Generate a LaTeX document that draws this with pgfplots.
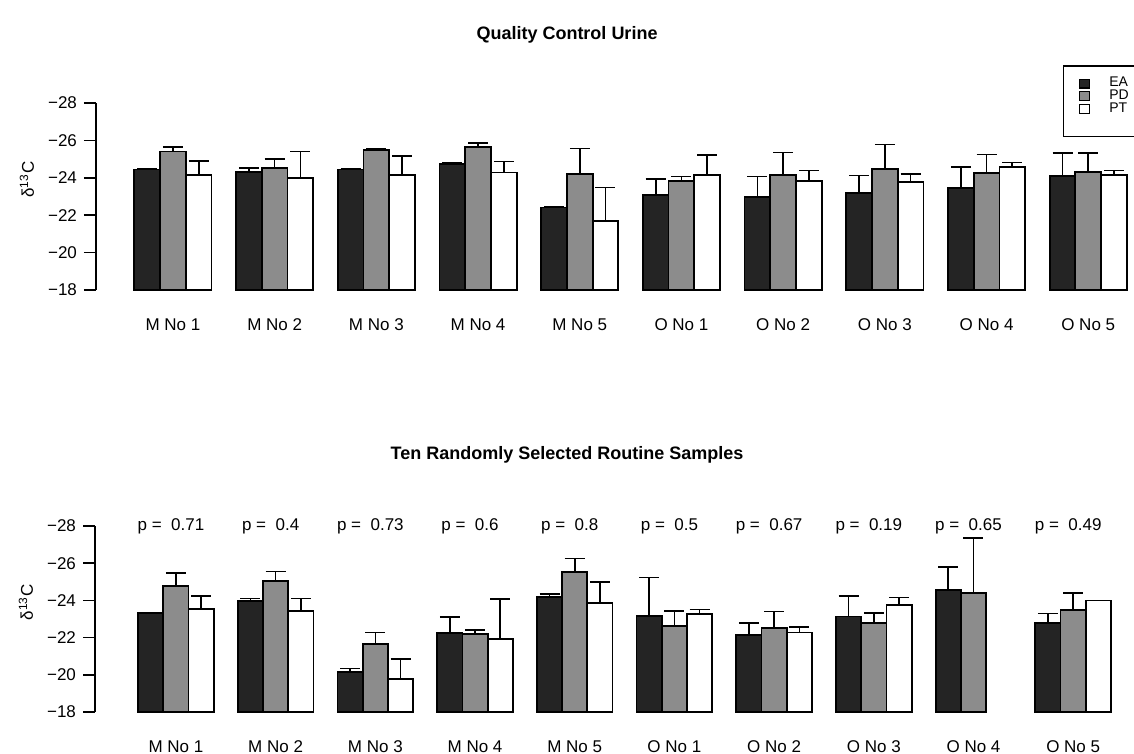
\documentclass[border=0pt]{standalone}
\usepackage{fontspec}
\setmainfont{Liberation Sans}
\usepackage{pgfplots}
\usepackage{pgfplotstable}
\pgfplotsset{compat=1.18}
\definecolor{eacol}{gray}{0.14}
\definecolor{pdcol}{gray}{0.55}
\definecolor{ptcol}{gray}{1.0}

% mean and length of the upper error bar (delta 13C, per mil)
\pgfplotstableread{
x ea eae pd pde pt pte
0 -24.44 0.05 -25.41 0.23 -24.17 0.73
1 -24.31 0.20 -24.52 0.47 -23.99 1.42
2 -24.44 0.06 -25.50 0.03 -24.17 0.99
3 -24.74 0.05 -25.66 0.20 -24.28 0.60
4 -22.41 0.05 -24.19 1.37 -21.68 1.81
5 -23.07 0.87 -23.83 0.23 -24.13 1.09
6 -22.96 1.12 -24.13 1.23 -23.81 0.57
7 -23.17 0.95 -24.45 1.32 -23.79 0.40
8 -23.46 1.12 -24.24 1.01 -24.56 0.25
9 -24.10 1.23 -24.31 1.02 -24.17 0.23
}\topdata

\pgfplotstableread{
x ea eae pd pde pt pte
0 -23.31 0.03 -24.77 0.69 -23.52 0.73
1 -23.98 0.12 -25.04 0.52 -23.43 0.67
2 -20.13 0.20 -21.64 0.63 -19.77 1.08
3 -22.25 0.85 -22.19 0.22 -21.91 2.18
4 -24.20 0.14 -25.51 0.75 -23.86 1.14
5 -23.16 2.08 -22.62 0.81 -23.25 0.27
6 -22.14 0.63 -22.50 0.91 -22.27 0.30
7 -23.13 1.12 -22.77 0.54 -23.75 0.40
8 -24.54 1.26 -24.40 2.97 nan nan
9 -22.80 0.49 -23.48 0.93 -24.00 0.00
}\botdata

\pgfplotsset{
  panel/.style={
    scale only axis, clip=false,
    ymin=0, ymax=10,
    axis lines*=left,
    x axis line style={draw=none},
    y axis line style={line width=0.8pt, black},
    xtick={0,...,9},
    xticklabels={M No 1,M No 2,M No 3,M No 4,M No 5,O No 1,O No 2,O No 3,O No 4,O No 5},
    xtick style={draw=none},
    xtick align=inside,
    xticklabel shift=10.6pt,
    x tick label style={text height=6.2pt, text depth=0pt},
    ytick={0,2,...,10},
    yticklabels={−18,−20,−22,−24,−26,−28},
    ytick align=outside,
    major tick length=6pt,
    ytick style={line width=0.8pt, black},
    tick label style={font=\fontsize{8.5}{10}\selectfont},
    ylabel={δ\textsuperscript{13}C},
    every axis y label/.style={at={(axis description cs:-0.0665,0.59)}, rotate=90, anchor=center, font=\fontsize{8.5}{10}\selectfont},
  },
}

\begin{document}
\begin{tikzpicture}
\node[font=\bfseries\fontsize{9}{11}\selectfont] at (283.5pt,-17.5pt) {Quality Control Urine};
\node[font=\bfseries\fontsize{9}{11}\selectfont] at (283.5pt,-227.5pt) {Ten Randomly Selected Routine Samples};

\begin{axis}[panel,
  at={(48pt,-145pt)}, anchor=south west, width=519pt, height=93.5pt,
  xmin=-0.757, xmax=9.45,
  legend style={at={(axis description cs:0.9315,1.203)}, anchor=north west,
    draw=black, line width=0.75pt, inner xsep=7.5pt, inner ysep=5.75pt,
    font=\fontsize{7}{7}\selectfont, row sep=0pt,
    nodes={inner sep=0pt, anchor=west}},
  legend cell align=left,
]
\addplot[ybar, bar width=0.253, bar shift=0pt, draw=black, line width=0.9pt, fill=eacol,
  legend image code/.code={\draw[line width=0.6pt, draw=black, fill=eacol] (0pt,-2.2pt) rectangle (5pt,2.2pt); \path[draw=none, fill=none] (0pt,0pt) -- (15pt,0pt);},
  error bars/.cd, y dir=plus, y explicit, error bar style={line width=0.8pt, black},
  error mark options={rotate=90, line width=0.8pt, mark size=5pt, black}]
  table[x expr=\thisrow{x}-0.253, y expr=-\thisrow{ea}-18, y error plus expr=\thisrow{eae}, y error minus expr=0] {\topdata};
\addlegendentry{\makebox[12pt][l]{EA}}
\addplot[ybar, bar width=0.253, bar shift=0pt, draw=black, line width=0.9pt, fill=pdcol,
  legend image code/.code={\draw[line width=0.6pt, draw=black, fill=pdcol] (0pt,-2.2pt) rectangle (5pt,2.2pt); \path[draw=none, fill=none] (0pt,0pt) -- (15pt,0pt);},
  error bars/.cd, y dir=plus, y explicit, error bar style={line width=0.8pt, black},
  error mark options={rotate=90, line width=0.8pt, mark size=5pt, black}]
  table[x expr=\thisrow{x}, y expr=-\thisrow{pd}-18, y error plus expr=\thisrow{pde}, y error minus expr=0] {\topdata};
\addlegendentry{\makebox[12pt][l]{PD}}
\addplot[ybar, bar width=0.253, bar shift=0pt, draw=black, line width=0.9pt, fill=ptcol,
  legend image code/.code={\draw[line width=0.6pt, draw=black, fill=ptcol] (0pt,-2.2pt) rectangle (5pt,2.2pt); \path[draw=none, fill=none] (0pt,0pt) -- (15pt,0pt);},
  error bars/.cd, y dir=plus, y explicit, error bar style={line width=0.8pt, black},
  error mark options={rotate=90, line width=0.8pt, mark size=5pt, black}]
  table[x expr=\thisrow{x}+0.253, y expr=-\thisrow{pt}-18, y error plus expr=\thisrow{pte}, y error minus expr=0] {\topdata};
\addlegendentry{\makebox[12pt][l]{PT}}
\addlegendimage{empty legend}
\addlegendentry{\rule{0pt}{3.5pt}}
\end{axis}

\begin{axis}[panel,
  at={(47.5pt,-356pt)}, anchor=south west, width=519.5pt, height=93pt,
  xmin=-0.812, xmax=9.61,
]
\addplot[ybar, bar width=0.253, bar shift=0pt, draw=black, line width=0.9pt, fill=eacol,
  error bars/.cd, y dir=plus, y explicit, error bar style={line width=0.8pt, black},
  error mark options={rotate=90, line width=0.8pt, mark size=5pt, black}]
  table[x expr=\thisrow{x}-0.253, y expr=-\thisrow{ea}-18, y error plus expr=\thisrow{eae}, y error minus expr=0] {\botdata};
\addplot[ybar, bar width=0.253, bar shift=0pt, draw=black, line width=0.9pt, fill=pdcol,
  error bars/.cd, y dir=plus, y explicit, error bar style={line width=0.8pt, black},
  error mark options={rotate=90, line width=0.8pt, mark size=5pt, black}]
  table[x expr=\thisrow{x}, y expr=-\thisrow{pd}-18, y error plus expr=\thisrow{pde}, y error minus expr=0] {\botdata};
\addplot[ybar, bar width=0.253, bar shift=0pt, draw=black, line width=0.9pt, fill=ptcol,
  error bars/.cd, y dir=plus, y explicit, error bar style={line width=0.8pt, black},
  error mark options={rotate=90, line width=0.8pt, mark size=5pt, black}]
  table[x expr=\thisrow{x}+0.253, y expr=-\thisrow{pt}-18, y error plus expr=\thisrow{pte}, y error minus expr=0] {\botdata};
\begin{scope}[every node/.style={font=\fontsize{8.5}{10}\selectfont}]
\node at (axis cs:-0.05,10) {p = \ 0.71};
\node at (axis cs:0.95,10) {p = \ 0.4};
\node at (axis cs:1.95,10) {p = \ 0.73};
\node at (axis cs:2.95,10) {p = \ 0.6};
\node at (axis cs:3.95,10) {p = \ 0.8};
\node at (axis cs:4.95,10) {p = \ 0.5};
\node at (axis cs:5.95,10) {p = \ 0.67};
\node at (axis cs:6.95,10) {p = \ 0.19};
\node at (axis cs:7.95,10) {p = \ 0.65};
\node at (axis cs:8.95,10) {p = \ 0.49};
\end{scope}
\end{axis}

\pgfresetboundingbox
\path (0pt,0pt) rectangle (567pt,-377pt);
\end{tikzpicture}
\end{document}
